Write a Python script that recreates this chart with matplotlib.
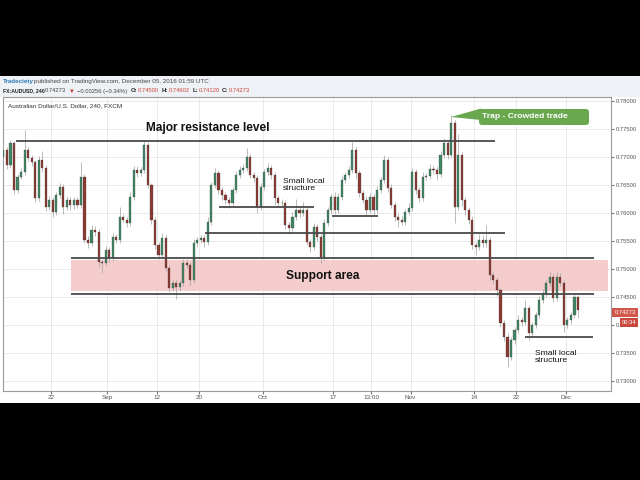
import numpy as np
import matplotlib
matplotlib.use('Agg')
import matplotlib.pyplot as plt
from matplotlib.patches import Rectangle, FancyBboxPatch, Polygon

# AUDUSD, 12h candles (mid Aug -> 5 Dec 2016)
first_open = 0.7700
closes = [
	0.7712, 0.7686, 0.7725, 0.7641, 0.7664, 0.7673, 0.7712, 0.7698, 0.7691, 0.7627,
	0.7695, 0.7680, 0.7611, 0.7623, 0.7602, 0.7632, 0.7646, 0.7611, 0.7623, 0.7614,
	0.7623, 0.7614, 0.7664, 0.7552, 0.7546, 0.7570, 0.7566, 0.7512, 0.7511, 0.7534,
	0.7520, 0.7557, 0.7552, 0.7593, 0.7588, 0.7582, 0.7629, 0.7677, 0.7671, 0.7677,
	0.7721, 0.7650, 0.7588, 0.7543, 0.7525, 0.7555, 0.7502, 0.7466, 0.7475, 0.7468,
	0.7475, 0.7511, 0.7507, 0.7480, 0.7546, 0.7552, 0.7555, 0.7548, 0.7584, 0.7650,
	0.7671, 0.7641, 0.7632, 0.7623, 0.7618, 0.7641, 0.7668, 0.7677, 0.7680, 0.7700,
	0.7668, 0.7662, 0.7611, 0.7646, 0.7673, 0.7680, 0.7668, 0.7627, 0.7618, 0.7618,
	0.7579, 0.7573, 0.7593, 0.7605, 0.7600, 0.7605, 0.7548, 0.7539, 0.7575, 0.7557,
	0.7521, 0.7582, 0.7605, 0.7629, 0.7605, 0.7629, 0.7659, 0.7668, 0.7677, 0.7712,
	0.7671, 0.7636, 0.7623, 0.7605, 0.7629, 0.7605, 0.7641, 0.7659, 0.7695, 0.7645,
	0.7614, 0.7593, 0.7588, 0.7584, 0.7602, 0.7609, 0.7673, 0.7641, 0.7627, 0.7664,
	0.7666, 0.7679, 0.7677, 0.7670, 0.7704, 0.7725, 0.7704, 0.7761, 0.7611, 0.7704,
	0.7623, 0.7605, 0.7588, 0.7543, 0.7539, 0.7552, 0.7546, 0.7552, 0.7489, 0.7480,
	0.7462, 0.7404, 0.7379, 0.7343, 0.7373, 0.7391, 0.7409, 0.7405, 0.7430, 0.7386,
	0.7400, 0.7418, 0.7445, 0.7457, 0.7475, 0.7486, 0.7448, 0.7486, 0.7475, 0.7400,
	0.7409, 0.7418, 0.7450, 0.7427]
# wick lengths in pips above / below the body
upper_wick = [
	10, 5, 6, 4, 6, 8, 36, 6, 5, 4,  6, 15, 6, 7, 5, 6, 8, 5, 7, 6,
	5, 6, 27, 5, 6, 8, 6, 5, 6, 7,  5, 7, 5, 17, 6, 5, 8, 6, 7, 5,
	8, 5, 4, 5, 6, 9, 5, 5, 6, 6,  5, 7, 6, 5, 7, 5, 6, 5, 8, 6,
	10, 5, 6, 5, 6, 5, 7, 6, 8, 16,  5, 6, 5, 7, 6, 9, 5, 6, 5, 7,
	6, 5, 8, 20, 6, 15, 5, 6, 7, 6,  5, 7, 6, 5, 8, 6, 7, 5, 6, 15,
	5, 6, 5, 7, 6, 5, 7, 6, 8, 5,  6, 5, 7, 6, 5, 8, 7, 5, 6, 10,
	6, 8, 6, 5, 7, 8, 6, 14, 5, 37,  5, 6, 5, 7, 6, 10, 8, 27, 5, 6,
	5, 4, 5, 6, 5, 6, 8, 6, 14, 5,  6, 5, 7, 8, 6, 9, 5, 8, 6, 5,
	6, 5, 5, 3]
lower_wick = [
	6, 8, 5, 8, 5, 4, 5, 5, 7, 8,  5, 6, 8, 6, 9, 5, 5, 12, 6, 8,
	7, 6, 5, 6, 8, 5, 7, 9, 18, 5,  8, 6, 6, 5, 5, 7, 5, 5, 6, 5,
	5, 6, 7, 8, 7, 6, 6, 8, 5, 21,  7, 5, 6, 8, 5, 7, 5, 8, 5, 5,
	6, 7, 8, 7, 9, 6, 5, 5, 6, 5,  6, 7, 11, 5, 5, 6, 7, 12, 6, 5,
	8, 10, 6, 5, 7, 5, 6, 8, 5, 7,  10, 5, 6, 7, 6, 5, 5, 6, 5, 6,
	8, 7, 6, 10, 5, 8, 5, 6, 5, 7,  6, 8, 13, 5, 6, 5, 6, 8, 7, 5,
	6, 5, 7, 12, 5, 6, 8, 5, 29, 5,  10, 8, 7, 8, 14, 6, 7, 6, 8, 7,
	10, 8, 7, 18, 6, 7, 5, 6, 5, 12,  8, 6, 5, 6, 7, 5, 7, 5, 6, 12,
	6, 8, 5, 15]

# x axis in trading days (0 = Aug 11)
tick_days   = [7, 15, 22, 28, 37, 47, 52.4, 58, 67, 73, 80]
tick_labels = ['22', 'Sep', '12', '20', 'Oct', '17', '13:00', 'Nov', '14', '22', 'Dec']
price_ticks = [0.730, 0.735, 0.740, 0.745, 0.750, 0.755, 0.760, 0.765, 0.770, 0.775, 0.780]

resistance  = 0.7729
support_top = 0.7519
support_bot = 0.7456
support_box = (0.7461, 0.7516)
mid_level   = 0.7564
local_levels = [0.7611, 0.7595, 0.7378]
last_price  = '0.74273'

pip = 1e-4
green, red = '#3f8763', '#8c3a31'
font = 'Liberation Sans'

fig = plt.figure(figsize=(6.4, 4.8), dpi=100, facecolor='black')

# background panels, pixel coords
bg = fig.add_axes([0, 0, 1, 1], zorder=0)
bg.set_xlim(0, 640); bg.set_ylim(480, 0); bg.axis('off')
bg.add_patch(Rectangle((0, 76), 640, 21, color='#eef1f5', lw=0))
bg.add_patch(Rectangle((0, 97), 640, 306, color='white', lw=0))

ax = fig.add_axes([3/640, 1-391/480, 608/640, 294/480], zorder=1)
ax.set_facecolor('white')

n = len(closes)
x = 0.25 + 0.5*np.arange(n)
c = np.array(closes)
o = np.r_[first_open, c[:-1]]
hi = np.maximum(o, c) + np.array(upper_wick)*pip
lo = np.minimum(o, c) - np.array(lower_wick)*pip
cols = np.where(c >= o, green, red)

ax.add_patch(Rectangle((9.84, support_box[0]), 86.0-9.84, support_box[1]-support_box[0],
		color='#f5cccc', lw=0, zorder=1))
ax.vlines(x, lo, hi, color='#a8a8a8', lw=0.55, zorder=3)
ax.bar(x, c-o, bottom=o, width=0.3, color=cols, edgecolor='#3a3a3a', linewidth=0.2, zorder=4)

# horizontal levels
lc = '#4a4a4a'
ax.hlines(resistance, 2.04, 70.0, color=lc, lw=1.3, zorder=5)
ax.hlines([support_top, support_bot], 9.84, 84.0, color=lc, lw=1.3, zorder=5)
ax.hlines(mid_level, 28.8, 71.4, color=lc, lw=1.3, zorder=5)
ax.hlines(local_levels[0], 30.8, 44.3, color=lc, lw=1.3, zorder=5)
ax.hlines(local_levels[1], 46.9, 53.4, color=lc, lw=1.3, zorder=5)
ax.hlines(local_levels[2], 74.2, 83.9, color=lc, lw=1.3, zorder=5)

ax.text(29.3, 0.7752, 'Major resistance level', ha='center', va='center',
		fontsize=8.6, fontweight='bold', family=font, color='#111', zorder=6)
ax.text(45.6, 0.74875, 'Support area', ha='center', va='center',
		fontsize=8.6, fontweight='bold', family=font, color='#111', zorder=6)
ax.text(39.9, 0.7650, 'Small local\nstructure', ha='left', va='center', linespacing=1.0,
		fontsize=6.1, family=font, color='#111', zorder=6)
ax.text(75.65, 0.7343, 'Small local\nstructure', ha='left', va='center', linespacing=1.0,
		fontsize=6.1, family=font, color='#111', zorder=6)

ax.set_xlim(0.191, 86.43)
ax.set_ylim(0.72821, 0.78071)
ax.set_xticks(tick_days)
ax.set_xticklabels(tick_labels)
ax.set_yticks(price_ticks)
ax.set_yticklabels(['%.5f' % v for v in price_ticks])
ax.yaxis.tick_right()
ax.tick_params(axis='y', labelsize=4.2, length=2, pad=1.5, colors='#777', labelcolor='#555')
ax.tick_params(axis='x', labelsize=4.6, length=2, pad=1.0, colors='#777', labelcolor='#555')
for lab in ax.get_xticklabels() + ax.get_yticklabels():
	lab.set_family(font)
ax.grid(color='#e6e6e6', lw=0.6)
ax.set_axisbelow(True)
for s in ax.spines.values():
	s.set_color('#9a9a9a'); s.set_linewidth(0.8)

# overlay: header, callout, price tag
ov = fig.add_axes([0, 0, 1, 1], zorder=2)
ov.set_xlim(0, 640); ov.set_ylim(480, 0); ov.axis('off')
ov.patch.set_alpha(0)

ov.text(3, 81, 'Tradeciety', color='#2a78b5', fontsize=4.5, fontweight='bold',
		family=font, va='center')
ov.text(34, 81, 'published on TradingView.com, December 05, 2016 01:59 UTC',
		color='#444', fontsize=4.5, family=font, va='center')
row2 = [(3, 'FX:AUDUSD, 240', '#222', 'bold', 3.7), (45, '0.74273', '#444', 'normal', 4.2),
		(69, '\u25bc', '#c0392b', 'normal', 4.2), (77, '\u22120.00256 (\u22120.34%)', '#444', 'normal', 4.2),
		(131, 'O:', '#222', 'bold', 4.2), (138, '0.74500', '#d0483a', 'normal', 4.2),
		(162, 'H:', '#222', 'bold', 4.2), (169, '0.74602', '#d0483a', 'normal', 4.2),
		(193, 'L:', '#222', 'bold', 4.2), (199, '0.74120', '#d0483a', 'normal', 4.2),
		(222, 'C:', '#222', 'bold', 4.2), (229, '0.74273', '#d0483a', 'normal', 4.2)]
for px, s, col, w, fs in row2:
	ov.text(px, 91, s, color=col, fontsize=fs, fontweight=w, va='center',
			family=[font, 'DejaVu Sans'])
ov.text(8, 106, 'Australian Dollar/U.S. Dollar, 240, FXCM', color='#333',
		fontsize=4.6, family=font, va='center')

# callout
gc = '#6aa84f'
ov.add_patch(Polygon([(451, 117), (481, 108.5), (481, 120)], closed=True, color=gc, lw=0))
ov.add_patch(FancyBboxPatch((479, 109), 110, 16, boxstyle='round,pad=0,rounding_size=3',
		color=gc, lw=0))
ov.text(524.5, 117, 'Trap - Crowded trade', color='white', fontsize=6.1,
		fontweight='bold', family=font, ha='center', va='center')

# last price tags
ov.add_patch(Rectangle((612, 308), 26, 9, color='#d0574a', lw=0))
ov.text(625, 312.7, last_price, color='white', fontsize=4.2, family=font,
		ha='center', va='center')
ov.add_patch(Rectangle((620, 317.5), 18, 9, color='#c9483c', lw=0))
ov.text(629, 322, '00:34', color='white', fontsize=4.2, family=font,
		ha='center', va='center')

fig.savefig('out.png', dpi=100, facecolor='black')
